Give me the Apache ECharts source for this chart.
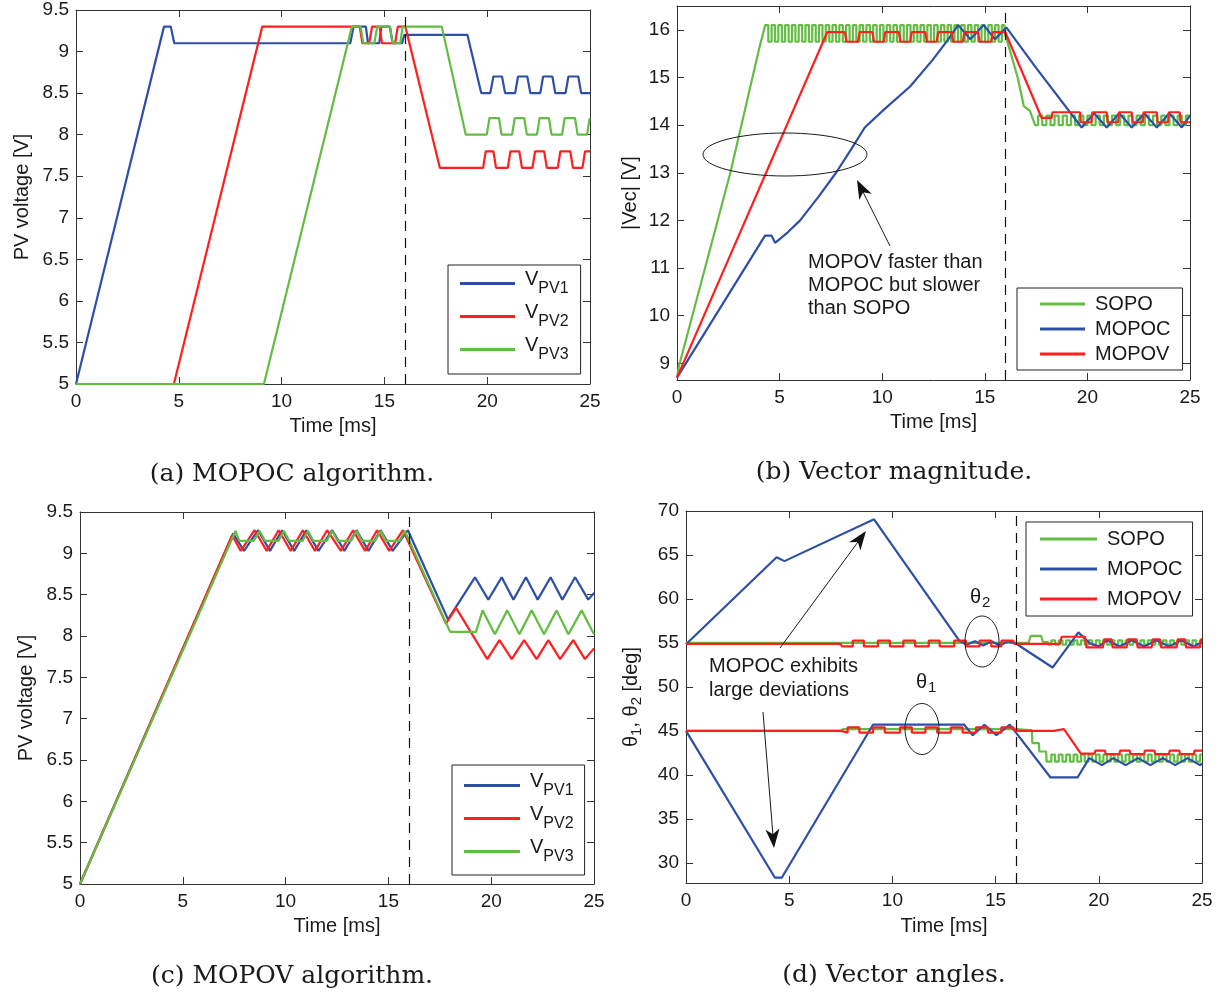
<!DOCTYPE html>
<html><head><meta charset="utf-8">
<script src="https://cdn.jsdelivr.net/npm/echarts@6/dist/echarts.min.js"></script>
<style>html,body{margin:0;padding:0;background:#fff}#c{width:1221px;height:996px}</style>
</head><body><div id="c"></div><script>
// ---------------- DATA ----------------
const pvTicks  = [5,5.5,6,6.5,7,7.5,8,8.5,9,9.5];
const vecTicks = [9,10,11,12,13,14,15,16];
const angTicks = [30,35,40,45,50,55,60,65,70];
const pvNames  = ['VPV1','VPV2','VPV3'];
const algNames = ['SOPO','MOPOC','MOPOV'];

// (a) MOPOC algorithm
const aV1 = [[0,5],[4.28,9.3],[4.61,9.3],[4.78,9.1],[13.34,9.1],[13.5,9.3],[14.1,9.3],[14.2,9.1],[14.75,9.1],[14.85,9.3],[15.27,9.3],[15.4,9.1],[15.86,9.1],[15.97,9.2],[19.04,9.2],[19.71,8.5],[20.15,8.5],[20.3,8.7],[20.72,8.7],[20.87,8.5],[21.36,8.5],[21.5,8.7],[21.95,8.7],[22.1,8.5],[22.58,8.5],[22.72,8.7],[23.17,8.7],[23.31,8.5],[23.81,8.5],[23.95,8.7],[24.43,8.7],[24.57,8.5],[25,8.5]];
const aV2 = [[0,5],[4.76,5],[9.06,9.3],[13.8,9.3],[13.93,9.1],[14.26,9.1],[14.4,9.3],[14.77,9.3],[14.88,9.1],[15.52,9.1],[15.65,9.3],[16.02,9.3],[17.7,7.6],[19.8,7.6],[19.93,7.8],[20.3,7.8],[20.43,7.6],[21.0,7.6],[21.13,7.8],[21.56,7.8],[21.69,7.6],[22.2,7.6],[22.33,7.8],[22.77,7.8],[22.9,7.6],[23.43,7.6],[23.56,7.8],[24.04,7.8],[24.17,7.6],[24.63,7.6],[24.76,7.8],[25,7.8]];
const aV3 = [[0,5],[9.14,5],[13.42,9.3],[13.84,9.3],[13.98,9.1],[14.51,9.1],[14.65,9.3],[15.27,9.3],[15.39,9.1],[15.77,9.1],[15.89,9.3],[17.79,9.3],[18.96,8.0],[19.98,8.0],[20.11,8.2],[20.57,8.2],[20.7,8.0],[21.21,8.0],[21.34,8.2],[21.8,8.2],[21.93,8.0],[22.42,8.0],[22.55,8.2],[23.0,8.2],[23.13,8.0],[23.64,8.0],[23.77,8.2],[24.27,8.2],[24.4,8.0],[24.86,8.0],[24.98,8.2],[25,8.2]];

// (b) Vector magnitude
const bSopoRamp = [[0,8.7],[0.1,8.95],[2.6,13.0],[4.0,15.6],[4.3,16.1]];
const bSopoLevels1 = [16.1,15.75];
const bSopoEdges1 = [4.45,4.61,4.78,4.94,5.11,5.27,5.44,5.60,5.77,5.93,6.10,6.26,6.43,6.59,6.76,6.92,7.09,7.25,7.42,7.58,7.75,7.91,8.08,8.24,8.41,8.57,8.74,8.90,9.07,9.23,9.40,9.56,9.73,9.89,10.06,10.22,10.39,10.55,10.72,10.88,11.05,11.21,11.38,11.54,11.71,11.87,12.04,12.20,12.37,12.53,12.70,12.86,13.03,13.19,13.36,13.52,13.69,13.85,14.02,14.18,14.35,14.51,14.68,14.84,15.01,15.17,15.34,15.50,15.67,15.83];
const bSopoFall = [[16.0,15.9],[16.6,15.0],[16.9,14.4],[17.2,14.3],[17.45,14.0]];
const bSopoLevels2 = [14.0,14.2];
const bSopoEdges2 = [17.6,17.8,18.0,18.2,18.4,18.6,18.8,19.0,19.2,19.4,19.6,19.8,20.0,20.2,20.4,20.6,20.8,21.0,21.2,21.4,21.6,21.8,22.0,22.2,22.4,22.6,22.8,23.0,23.2,23.4,23.6,23.8,24.0,24.2,24.4,24.6,24.8];
const bMopoc = [[0,8.7],[4.29,11.68],[4.61,11.68],[4.78,11.53],[5.4,11.75],[6.0,12.0],[6.9,12.5],[7.75,13.0],[8.5,13.5],[9.15,13.95],[10.07,14.32],[11.36,14.81],[12.46,15.37],[13.2,15.79],[13.7,16.1],[14.3,15.8],[14.94,16.1],[15.5,15.8],[16.05,16.05],[17.5,15.2],[19.72,13.95],[20.33,14.25],[20.94,13.95],[21.55,14.25],[22.16,13.95],[22.77,14.25],[23.38,13.95],[23.99,14.25],[24.6,13.95],[25,14.2]];
const bMopov = [[0,8.7],[7.32,15.95],[8.18,15.95],[8.26,15.75],[8.82,15.75],[8.9,15.95],[9.52,15.95],[9.6,15.75],[10.07,15.75],[10.15,15.95],[10.81,15.95],[10.89,15.75],[11.36,15.75],[11.44,15.95],[12.1,15.95],[12.18,15.75],[12.65,15.75],[12.73,15.95],[13.38,15.95],[13.46,15.75],[13.93,15.75],[14.01,15.95],[14.67,15.95],[14.75,15.75],[15.31,15.75],[15.39,15.95],[16.0,15.95],[17.77,14.15],[18.26,14.15],[18.3,14.27],[19.64,14.27],[19.68,14.06],[20.2,14.06],[20.24,14.27],[20.94,14.27],[20.98,14.06],[21.5,14.06],[21.54,14.27],[22.16,14.27],[22.2,14.06],[22.7,14.06],[22.74,14.27],[23.38,14.27],[23.42,14.06],[23.93,14.06],[23.97,14.27],[24.5,14.27],[24.54,14.06],[25,14.06]];

// (c) MOPOV algorithm
const cV1 = [[0,5],[7.45,9.24],[7.98,9.03],[8.66,9.28],[9.24,9.03],[9.83,9.28],[10.42,9.03],[11.01,9.28],[11.6,9.03],[12.27,9.28],[12.86,9.03],[13.45,9.28],[14.03,9.03],[14.62,9.28],[15.21,9.03],[15.95,9.28],[17.9,8.2],[19.21,8.71],[19.86,8.44],[20.51,8.71],[21.08,8.44],[21.69,8.71],[22.26,8.44],[22.89,8.71],[23.46,8.44],[24.08,8.71],[24.72,8.44],[25,8.52]];
const cV2 = [[0,5],[7.4,9.22],[7.82,9.03],[8.49,9.28],[9.08,9.03],[9.66,9.28],[10.25,9.03],[10.84,9.28],[11.43,9.03],[12.02,9.28],[12.69,9.03],[13.28,9.28],[13.87,9.03],[14.45,9.28],[15.04,9.03],[15.71,9.28],[17.8,8.15],[18.29,8.34],[19.81,7.72],[20.4,7.95],[21.0,7.72],[21.6,7.95],[22.21,7.72],[22.78,7.95],[23.35,7.72],[23.99,7.95],[24.56,7.72],[25,7.85]];
const cV3 = [[0,5],[7.56,9.27],[7.75,9.15],[8.45,9.15],[8.74,9.27],[9.0,9.15],[9.65,9.15],[9.92,9.27],[10.18,9.15],[10.82,9.15],[11.09,9.27],[11.35,9.15],[12.0,9.15],[12.27,9.27],[12.53,9.15],[13.18,9.15],[13.45,9.27],[13.71,9.15],[14.35,9.15],[14.62,9.27],[14.88,9.15],[15.53,9.15],[15.8,9.27],[18.0,8.05],[19.26,8.05],[19.58,8.31],[20.18,8.02],[20.78,8.31],[21.37,8.02],[21.97,8.31],[22.57,8.02],[23.18,8.31],[23.75,8.02],[24.4,8.31],[25,8.02]];

// (d) Vector angles
const dSopoT2Head = [[0,55.0],[16.6,55.0],[16.7,55.8],[17.2,55.8],[17.3,55.1],[17.55,55.1],[17.55,54.8]];
const dSopoT2Levels = [54.8,55.3];
const dSopoT1Head = [[0,45.0],[7.5,45.0],[7.6,45.2],[16.0,45.2],[16.05,45.05],[16.76,45.05],[16.78,43.6],[17.1,43.6],[17.12,42.65],[17.45,42.65],[17.47,41.5],[17.55,41.5]];
const dSopoT1Levels = [41.5,42.3];
const dSopoEdges = [17.7,17.88,18.06,18.24,18.42,18.6,18.78,18.96,19.14,19.32,19.5,19.68,19.86,20.04,20.22,20.4,20.58,20.76,20.94,21.12,21.3,21.48,21.66,21.84,22.02,22.2,22.38,22.56,22.74,22.92,23.1,23.28,23.46,23.64,23.82,24.0,24.18,24.36,24.54,24.72,24.9];
const dMopocT2 = [[0,54.85],[4.39,64.74],[4.77,64.3],[9.11,69.05],[13.23,55.3],[13.6,54.8],[14.0,55.2],[14.4,54.7],[14.8,55.2],[15.2,54.7],[15.6,55.2],[16.0,54.9],[17.76,52.2],[19.01,56.2],[19.57,54.95],[20.0,54.6],[20.4,55.3],[21.0,54.6],[21.6,55.3],[22.2,54.6],[22.8,55.3],[23.4,54.6],[24.0,55.3],[24.6,54.6],[25,55.1]];
const dMopocT1 = [[0,45],[4.31,28.3],[4.64,28.3],[9.06,45.7],[13.48,45.7],[13.89,44.5],[14.46,45.7],[15.04,44.5],[15.69,45.7],[17.66,39.7],[18.97,39.7],[19.54,41.9],[20.15,41.1],[20.7,41.9],[21.3,41.1],[21.9,41.9],[22.5,41.1],[23.1,41.9],[23.7,41.1],[24.3,41.9],[24.9,41.1],[25,41.3]];
const dMopovT2 = [[0,54.9],[7.5,54.9],[7.55,54.6],[8.08,54.6],[8.08,55.25],[8.62,55.25],[8.62,54.6],[9.3,54.6],[9.3,55.25],[9.88,55.25],[9.88,54.6],[10.53,54.6],[10.53,55.25],[11.1,55.25],[11.1,54.6],[11.76,54.6],[11.76,55.25],[12.29,55.25],[12.29,54.6],[12.99,54.6],[12.99,55.25],[13.56,55.25],[13.56,54.6],[14.22,54.6],[14.22,55.25],[14.79,55.25],[14.79,54.6],[15.28,54.6],[15.28,55.25],[15.86,55.25],[15.9,54.9],[18.12,54.9],[18.2,55.7],[19.33,55.7],[19.4,54.5],[20.2,54.5],[20.25,55.4],[20.62,55.4],[20.67,54.5],[21.35,54.5],[21.4,55.4],[21.83,55.4],[21.88,54.5],[22.56,54.5],[22.61,55.4],[22.97,55.4],[23.02,54.5],[23.77,54.5],[23.82,55.4],[24.18,55.4],[24.23,54.5],[24.9,54.5],[24.95,55.4],[25,55.4]];
const dMopovT1 = [[0,45],[7.5,45],[7.55,44.8],[7.83,44.8],[7.83,45.4],[8.4,45.4],[8.4,44.8],[9.06,44.8],[9.06,45.4],[9.63,45.4],[9.63,44.8],[10.37,44.8],[10.37,45.4],[10.94,45.4],[10.94,44.8],[11.6,44.8],[11.6,45.4],[12.17,45.4],[12.17,44.8],[12.83,44.8],[12.83,45.4],[13.4,45.4],[13.4,44.8],[14.05,44.8],[14.05,45.4],[14.63,45.4],[14.63,44.8],[15.28,44.8],[15.28,45.4],[15.86,45.4],[15.9,45.0],[17.82,45.0],[17.85,45.2],[18.31,45.2],[19.13,42.4],[19.8,42.4],[19.83,42.75],[20.3,42.75],[20.33,42.35],[21.0,42.35],[21.03,42.75],[21.5,42.75],[21.53,42.35],[22.2,42.35],[22.23,42.75],[22.7,42.75],[22.73,42.35],[23.4,42.35],[23.43,42.75],[23.9,42.75],[23.93,42.35],[24.6,42.35],[24.63,42.75],[25,42.75]];

// ---------------- BUILD ----------------
function sq(t0, idx, levels, edges, tEnd){
  let i = idx; const pts = [[t0, levels[i]]];
  edges.forEach(t => { pts.push([t, levels[i]]); i = 1 - i; pts.push([t, levels[i]]); });
  pts.push([tEnd, levels[i]]);
  return pts;
}
const bSopo = bSopoRamp.concat(sq(4.3,0,bSopoLevels1,bSopoEdges1,15.95), bSopoFall, sq(17.45,0,bSopoLevels2,bSopoEdges2,25));
const dSopoT2 = dSopoT2Head.concat(sq(17.55,0,dSopoT2Levels,dSopoEdges,25));
const dSopoT1 = dSopoT1Head.concat(sq(17.55,0,dSopoT1Levels,dSopoEdges,25));

const F = "'Liberation Sans', Arial, Helvetica, sans-serif";
const SERIF = "'DejaVu Serif', serif";
const BLUE = '#2d4fa8', RED = '#ff1f1f', GREEN = '#63bd43', INK = '#1a1a1a';

function ln(name, data, g, color, dashed){
  const s = {type:'line', name, data, xAxisIndex:2*g, yAxisIndex:2*g, symbol:'none', showSymbol:false,
    lineStyle:{width:2.2, color}, itemStyle:{color}, animation:false, silent:true};
  if (dashed) s.markLine = {silent:true, symbol:'none', label:{show:false}, animation:false,
    lineStyle:{type:[10,7], color:'#111', width:1.2}, data:[{xAxis:16}]};
  return s;
}
function xAx(g, top, nameGap){
  return {type:'value', gridIndex:g, position: top?'top':'bottom', min:0, max:25, interval:5,
    axisLine:{show:true, onZero:false, lineStyle:{color:'#333', width:1}},
    axisTick:{show:true, inside:true, length:7, lineStyle:{color:'#333'}},
    axisLabel:{show:!top, color:INK, fontSize:19, fontFamily:F, margin:8},
    splitLine:{show:false},
    name: top?'':'Time [ms]', nameLocation:'middle', nameGap: nameGap,
    nameTextStyle:{color:INK, fontSize:20, fontFamily:F}};
}
function yAx(g, right, min, max, ticks, name, nameGap, rich){
  const nts = {color:INK, fontSize:20, fontFamily:F};
  if (rich) nts.rich = rich;
  return {type:'value', gridIndex:g, position: right?'right':'left', min, max,
    axisLine:{show:true, onZero:false, lineStyle:{color:'#333', width:1}},
    axisTick:{show:true, inside:true, length:7, customValues:ticks, lineStyle:{color:'#333'}},
    axisLabel:{show:!right, customValues:ticks, color:INK, fontSize:19, fontFamily:F, margin:7},
    splitLine:{show:false},
    name: right?'':name, nameLocation:'middle', nameRotate:90, nameGap,
    nameTextStyle: nts};
}
const pvRich = {
  v:{fontSize:20, fontFamily:F, color:INK, padding:[0,0,9,5]},
  s:{fontSize:16, fontFamily:F, color:INK, padding:[11,0,0,0]}
};
function leg(left, top, names, o){
  return Object.assign({show:true, left, top, orient:'vertical', data:names, icon:'rect',
    itemHeight:3, selectedMode:false, borderColor:'#222', borderWidth:1, backgroundColor:'#fff'}, o);
}
function arrow(x1,y1,x2,y2){
  const dx=x2-x1, dy=y2-y1, L=Math.hypot(dx,dy), ux=dx/L, uy=dy/L, hl=19, hw=7;
  const bx=x2-ux*hl, by=y2-uy*hl, px=-uy, py=ux;
  return [
    {type:'line', z:100, shape:{x1, y1, x2:x2-ux*10, y2:y2-uy*10}, style:{stroke:INK, lineWidth:1}},
    {type:'polygon', z:100, shape:{points:[[x2,y2],[bx+px*hw,by+py*hw],[x2-ux*hl*0.72,y2-uy*hl*0.72],[bx-px*hw,by-py*hw]]}, style:{fill:'#111'}}
  ];
}
function txt(x, y, text, size, align, font, rich){
  const st = {text, fontSize:size, fontFamily:font||F, fill:INK, align:align||'left', verticalAlign:'middle'};
  if (rich) st.rich = rich;
  return {type:'text', z:100, x, y, style:st};
}
const thRich = {a:{fontSize:20, fontFamily:F, fill:INK, color:INK}, b:{fontSize:15, fontFamily:F, fill:INK, color:INK, padding:[12,0,0,1]}};

const graphics = [
  {type:'ellipse', z:100, shape:{cx:785, cy:154.5, rx:82, ry:21.5}, style:{fill:'none', stroke:INK, lineWidth:1}},
  ...arrow(890,246,857,180),
  txt(808,262,'MOPOV faster than',20), txt(808,285,'MOPOC but slower',20), txt(808,308,'than SOPO',20),
  {type:'ellipse', z:100, shape:{cx:982, cy:641.5, rx:17, ry:25.5}, style:{fill:'none', stroke:INK, lineWidth:1}},
  {type:'ellipse', z:100, shape:{cx:922, cy:729, rx:17, ry:25.5}, style:{fill:'none', stroke:INK, lineWidth:1}},
  txt(970,597,'{a|θ}{b|2}',20,'left',F,thRich),
  txt(916,682,'{a|θ}{b|1}',20,'left',F,thRich),
  ...arrow(780,648,866,531),
  ...arrow(763,712,774,848),
  txt(709,666,'MOPOC exhibits',20), txt(709,690,'large deviations',20),
  txt(292,474,'(a) MOPOC algorithm.',25,'center',SERIF),
  txt(894,472,'(b) Vector magnitude.',25,'center',SERIF),
  txt(292,976,'(c) MOPOV algorithm.',25,'center',SERIF),
  txt(894,975,'(d) Vector angles.',25,'center',SERIF)
];

const option = {
  animation:false,
  backgroundColor:'#fff',
  grid:[
    {left:76, top:10, width:514, height:374},
    {left:677, top:6, width:513, height:374},
    {left:80, top:512, width:514, height:372},
    {left:686, top:511, width:516, height:372}
  ],
  xAxis:[xAx(0,false,32),xAx(0,true),xAx(1,false,32),xAx(1,true),xAx(2,false,32),xAx(2,true),xAx(3,false,33),xAx(3,true)],
  yAxis:[
    yAx(0,false,5,9.5,pvTicks,'PV voltage [V]',44), yAx(0,true,5,9.5,pvTicks),
    yAx(1,false,8.65,16.5,vecTicks,'|Vec| [V]',37), yAx(1,true,8.65,16.5,vecTicks),
    yAx(2,false,5,9.5,pvTicks,'PV voltage [V]',44), yAx(2,true,5,9.5,pvTicks),
    yAx(3,false,27.7,70,angTicks,'{t|θ}{s|1}{t|, θ}{s|2}{t| [deg]}',42,{t:{fontSize:20,fontFamily:F,color:INK},s:{fontSize:15,fontFamily:F,color:INK,padding:[11,0,0,0]}}), yAx(3,true,27.7,70,angTicks)
  ],
  legend:[
    leg(448,265,pvNames,{itemWidth:55, itemGap:5, padding:[4,12,11,12], formatter:n=>'{v|V}{s|'+n.slice(1)+'}', textStyle:{fontSize:20, fontFamily:F, color:INK, rich:pvRich}}),
    leg(1017,288,algNames,{itemWidth:45, itemGap:5, padding:[6,12,6,23], textStyle:{fontSize:20, fontFamily:F, color:INK, padding:[0,0,0,5]}}),
    leg(452,765,pvNames,{itemWidth:56, itemGap:5, padding:[6,11,10,12], formatter:n=>'{v|V}{s|'+n.slice(1)+'}', textStyle:{fontSize:20, fontFamily:F, color:INK, rich:pvRich}}),
    leg(1026,522,algNames,{itemWidth:57, itemGap:10, padding:[7,10,7,14], textStyle:{fontSize:20, fontFamily:F, color:INK, padding:[0,0,0,5]}})
  ],
  graphic: graphics,
  series:[
    ln('VPV1',aV1,0,BLUE,true), ln('VPV2',aV2,0,RED), ln('VPV3',aV3,0,GREEN),
    ln('SOPO',bSopo,1,GREEN,true), ln('MOPOC',bMopoc,1,BLUE), ln('MOPOV',bMopov,1,RED),
    ln('VPV1',cV1,2,BLUE,true), ln('VPV2',cV2,2,RED), ln('VPV3',cV3,2,GREEN),
    ln('SOPO',dSopoT2,3,GREEN,true), ln('SOPO',dSopoT1,3,GREEN),
    ln('MOPOC',dMopocT2,3,BLUE), ln('MOPOC',dMopocT1,3,BLUE),
    ln('MOPOV',dMopovT2,3,RED), ln('MOPOV',dMopovT1,3,RED)
  ]
};
const chart = echarts.init(document.getElementById('c'), null, {renderer:'canvas'});
chart.setOption(option);
</script></body></html>
